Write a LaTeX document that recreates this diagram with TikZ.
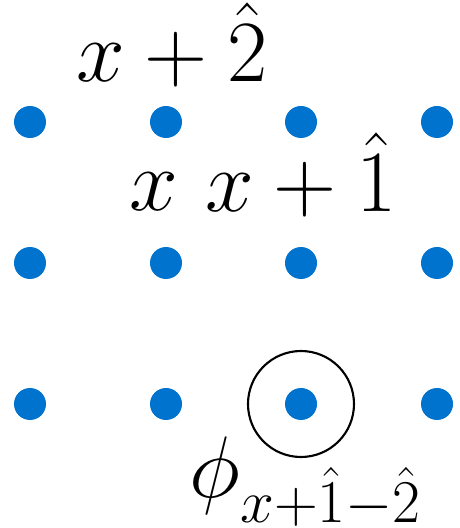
\documentclass[tikz,border=0pt]{standalone}
\usepackage{amsmath, amssymb}
\usepackage{tikz}
\usetikzlibrary{positioning}
\definecolor{dotblue}{RGB}{0,115,207}

\begin{document}
\begin{tikzpicture}[site/.style={circle, fill=dotblue, inner sep=0pt, minimum size=0.32cm},
    lbl/.style={anchor=base, inner sep=0pt, font=\fontsize{24.5}{29}\selectfont}]
    \useasboundingbox (0,0) rectangle (4.60,5.28);

    % Define lattice sites
    \node[site] (a1) at (0.30, 4.06) {};
    \node[site] (b1) at (1.66, 4.06) {};
    \node[site] (c1) at (3.01, 4.06) {};
    \node[site] (d1) at (4.37, 4.06) {};
    \node[site] (a2) at (0.30, 2.65) {};
    \node[site] (b2) at (1.66, 2.65) {};
    \node[site] (c2) at (3.01, 2.65) {};
    \node[site] (d2) at (4.37, 2.65) {};
    \node[site] (a3) at (0.30, 1.24) {};
    \node[site] (b3) at (1.66, 1.24) {};
    \node[site] (c3) at (3.01, 1.24) {};
    \node[site] (d3) at (4.37, 1.24) {};

    % Ring around the marked site
    \node[circle, draw, line width=0.6pt, minimum size=1.06cm] (ring) at (c3) {};

    % Labels
    \node[lbl] (up) at (1.72, 4.46) {$x+\hat{2}$};
    \node[lbl] (x) at (1.54, 3.17) {$x$};
    \node[lbl] (right) at (3.01, 3.16) {$x+\hat{1}$};
    \node[lbl] (phi) at (3.06, 0.31) {$\phi_{x+\hat{1}-\hat{2}}$};
\end{tikzpicture}
\end{document}
